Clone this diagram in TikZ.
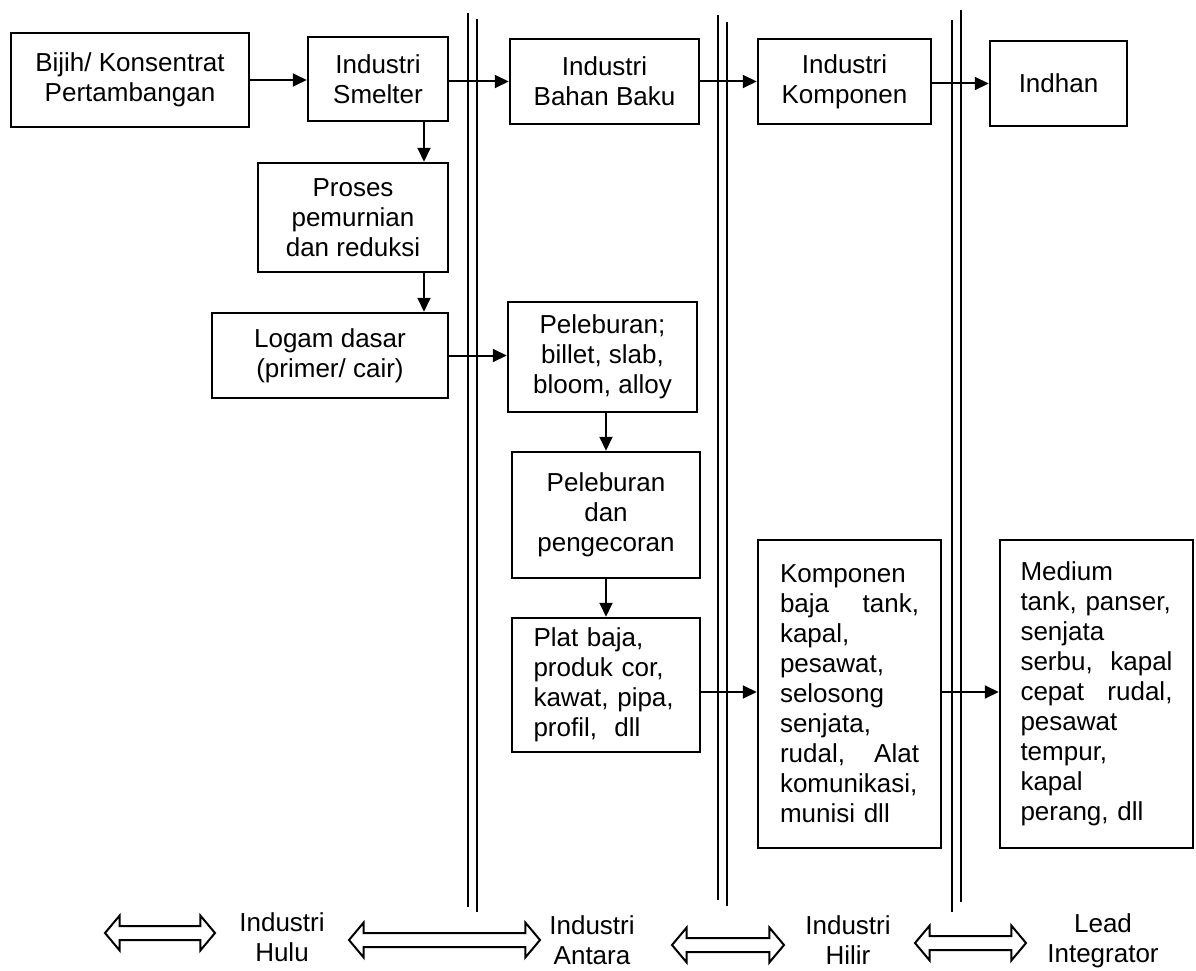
\documentclass[tikz,border=0pt]{standalone}
\usepackage{fontspec}
\setmainfont{Liberation Sans}
\usetikzlibrary{arrows.meta,shapes.arrows}
\begin{document}
\begin{tikzpicture}[x=1pt,y=-1pt,
  box/.style={draw, line width=2.5pt, inner sep=0pt, align=center, font=\fontsize{26}{30}\selectfont},
  arr/.style={line width=2pt, -{Triangle[length=14pt,width=13pt]}},
  sep/.style={line width=1.3pt},
  darr/.style={double arrow, draw, line width=2pt, inner xsep=0pt, inner ysep=6pt, double arrow head extend=10.5pt, double arrow tip angle=100},
  lbl/.style={align=center, inner sep=0pt, font=\fontsize{26}{30}\selectfont}]
\useasboundingbox (0,0) rectangle (1196,971);
% separators
\draw[sep] (468,13) -- (468,907);
\draw[sep] (477,19) -- (477,912);
\draw[sep] (718,15) -- (718,900);
\draw[sep] (727,22) -- (727,906);
\draw[sep] (952,20) -- (952,912);
\draw[sep] (961,10) -- (961,902);
% top row
\node[box, minimum width=238pt, minimum height=94pt] (bijih) at (130,80) {Bijih/ Konsentrat\\Pertambangan};
\node[box, minimum width=140pt, minimum height=84pt] (smelter) at (378,79) {Industri\\Smelter};
\node[box, minimum width=189pt, minimum height=85pt] (bahan) at (604.5,81.5) {Industri\\Bahan Baku};
\node[box, minimum width=173pt, minimum height=85pt] (komp) at (844.5,81.5) {Industri\\Komponen};
\node[box, minimum width=137pt, minimum height=85pt] (indhan) at (1058.5,83.5) {Indhan};
% column boxes
\node[box, minimum width=190pt, minimum height=109pt] (proses) at (353,217.5) {Proses\\pemurnian\\dan reduksi};
\node[box, minimum width=236pt, minimum height=85pt] (logam) at (330,355.5) {Logam dasar\\(primer/ cair)};
\node[box, minimum width=189pt, minimum height=110pt] (pel1) at (602.5,357) {Peleburan;\\billet, slab,\\bloom, alloy};
\node[box, minimum width=188pt, minimum height=126pt] (pel2) at (606,515) {Peleburan\\dan\\pengecoran};
\node[box, minimum width=188pt, minimum height=134pt, text width=145pt, align=left] (plat) at (606,685) {Plat baja,\\produk cor,\\kawat, pipa,\\profil,\ \ dll};
\node[box, minimum width=183pt, minimum height=308pt, text width=139pt, align=left] (komp2) at (849.5,694) {Komponen\\baja\hfill tank,\\kapal,\\pesawat,\\selosong\\senjata,\\rudal,\hfill Alat\\komunikasi,\\munisi dll};
\node[box, minimum width=193pt, minimum height=308pt, text width=152pt, align=left] (medium) at (1096.5,694) {Medium\\tank, panser,\\senjata\\serbu,\hfill kapal\\cepat\hfill rudal,\\pesawat\\tempur,\\kapal\\perang, dll};
% connectors
\coordinate (xa) at (424,0);
\coordinate (xb) at (606,0);
\coordinate (yc) at (0,692);
\draw[arr] (bijih.east) -- (smelter.west |- bijih.east);
\draw[arr] (smelter.east |- bahan.west) -- (bahan.west);
\draw[arr] (bahan.east) -- (komp.west |- bahan.east);
\draw[arr] (komp.east |- indhan.west) -- (indhan.west);
\draw[arr] (smelter.south -| xa) -- (proses.north -| xa);
\draw[arr] (proses.south -| xa) -- (logam.north -| xa);
\draw[arr] (logam.east) -- (pel1.west |- logam.east);
\draw[arr] (pel1.south -| xb) -- (pel2.north -| xb);
\draw[arr] (pel2.south) -- (plat.north);
\draw[arr] (plat.east |- yc) -- (komp2.west |- yc);
\draw[arr] (komp2.east |- yc) -- (medium.west |- yc);
% bottom legend
\node[darr, minimum height=110pt] (d1) at (160,933) {};
\node[lbl] (hulu) at (282,937) {Industri\\Hulu};
\node[darr, minimum height=191pt] (d2) at (444.5,940) {};
\node[lbl] (antara) at (592,940) {Industri\\Antara};
\node[darr, minimum height=112pt] (d3) at (728,945) {};
\node[lbl] (hilir) at (848,940) {Industri\\Hilir};
\node[darr, minimum height=111pt] (d4) at (970.5,943) {};
\node[lbl] (lead) at (1103,941) {Lead\\Integrator};
\end{tikzpicture}
\end{document}
